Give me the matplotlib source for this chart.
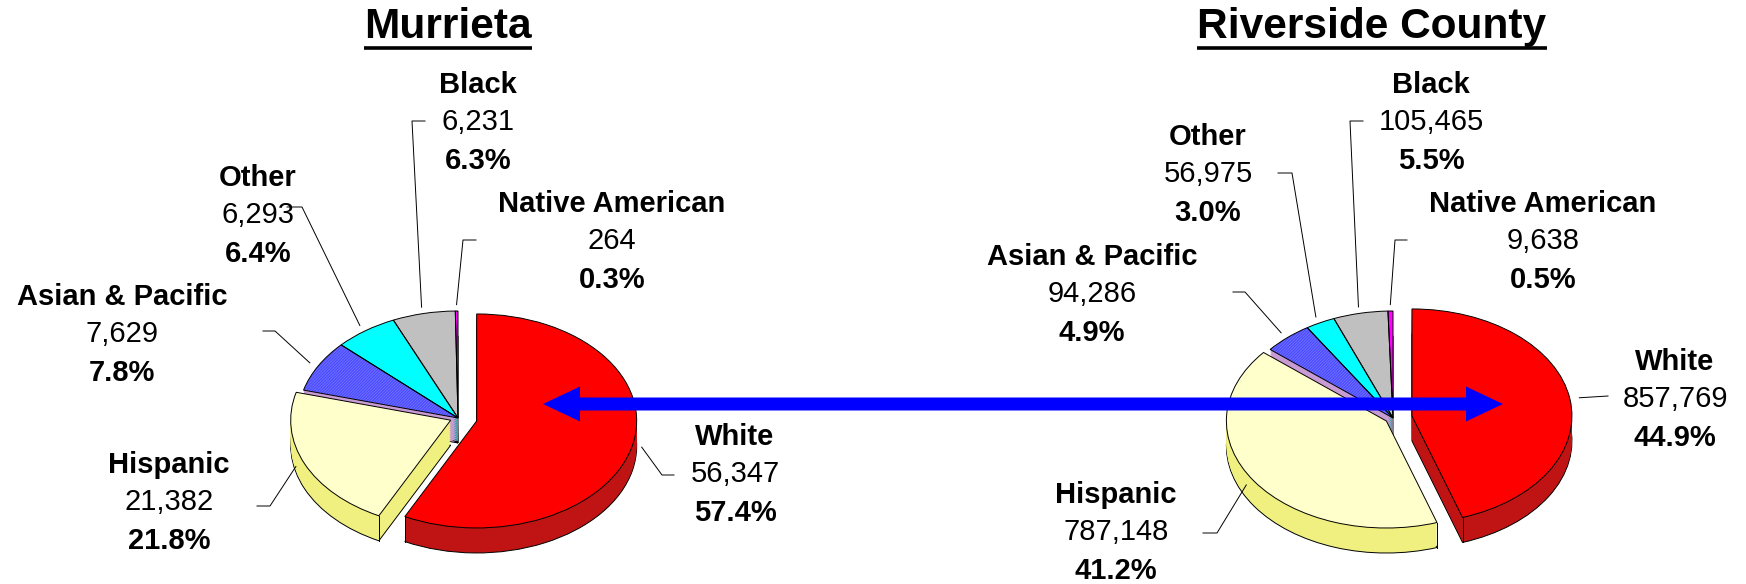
import numpy as np
import matplotlib
matplotlib.use("Agg")
import matplotlib.pyplot as plt

plt.rcParams['font.family'] = ['Liberation Sans', 'DejaVu Sans']
plt.rcParams['hatch.linewidth'] = 0.5

# ---- data ----
titles = ["Murrieta", "Riverside County"]
categories = ["White", "Hispanic", "Asian & Pacific", "Other", "Black", "Native American"]
murrieta = [56347, 21382, 7629, 6293, 6231, 264]
riverside = [857769, 787148, 94286, 56975, 105465, 9638]

top_colors = ["#FF0000", "#FFFFCC", "#C8C8FF", "#00FFFF", "#C0C0C0", "#FF00FF"]
side_colors = ["#C01414", "#F0F080", "#C89BD2", "#00AAAA", "#8C8C8C", "#A000A0"]
explode = [0.12, 0.05, 0, 0, 0, 0]

# ---- layout (pixels, origin top-left) ----
W, H = 1746, 584
RX, RY = 160, 107
DEPTH = 25
centers = [(458, 418), (1393, 418)]
title_pos = [(448, 38), (1372, 38)]
# label block: centre x, baseline of first line
label_pos = [
    [(735, 445), (169, 473), (122, 305), (258, 186), (478, 93), (612, 212)],
    [(1675, 370), (1116, 503), (1092, 265), (1208, 145), (1431, 93), (1543, 212)],
]
# leader line: tail x, elbow x, elbow y
leaders = [
    [(674, 662, 475), (257, 270, 506), (263, 275, 331), (287, 302, 207), (425, 412, 121), (476, 463, 240)],
    [(1608, 1608, 396), (1203, 1217, 533), (1233, 1245, 292), (1278, 1292, 173), (1363, 1350, 121), (1407, 1395, 240)],
]
arrow_y, arrow_x0, arrow_x1 = 404, 543, 1503

fig = plt.figure(figsize=(W / 100, H / 100), dpi=100)

pie_axes = []
for vals, (cx, cy) in zip([murrieta, riverside], centers):
    half = 1.5
    w, h = 2 * half * RX, 2 * half * RY
    ax = fig.add_axes([(cx - w / 2) / W, (H - cy - h / 2) / H, w / W, h / H])
    d = DEPTH / RY
    n = 14
    # side walls: stacked darker copies
    for k in range(n, 0, -1):
        ax.pie(vals, colors=side_colors, startangle=90, counterclock=False,
               explode=explode, center=(0, -d * k / n),
               wedgeprops=dict(edgecolor='black' if k == n else 'none', linewidth=0.7))
    wedges, _ = ax.pie(vals, colors=top_colors, startangle=90, counterclock=False,
                       explode=explode, wedgeprops=dict(linewidth=0))
    wedges[2].set_edgecolor('#2020FF')
    wedges[2].set_hatch('/' * 22)
    ax.pie(vals, startangle=90, counterclock=False, explode=explode,
           wedgeprops=dict(fill=False, edgecolor='black', linewidth=0.7))
    # vertical edges of the side walls
    for wg in wedges:
        for t in (wg.theta1, wg.theta2):
            x = wg.center[0] + np.cos(np.radians(t))
            y = wg.center[1] + np.sin(np.radians(t))
            if y < wg.center[1] - 0.05:
                ax.plot([x, x], [y, y - d], color='black', lw=0.7)
    ax.set_aspect('auto')
    ax.set_xlim(-half, half)
    ax.set_ylim(-half, half)
    pie_axes.append((ax, wedges))

# ---- overlay for text, leaders and arrow ----
ov = fig.add_axes([0, 0, 1, 1])
ov.set_xlim(0, W)
ov.set_ylim(H, 0)
ov.axis('off')
ov.patch.set_visible(False)

fs = 21
for p, vals in enumerate([murrieta, riverside]):
    ax, wedges = pie_axes[p]
    total = sum(vals)
    for i, cat in enumerate(categories):
        lx, ly = label_pos[p][i]
        ov.text(lx, ly, cat, ha='center', va='baseline', fontsize=fs, fontweight='bold')
        ov.text(lx, ly + 37, f"{vals[i]:,}", ha='center', va='baseline', fontsize=fs)
        ov.text(lx, ly + 76, f"{vals[i] / total * 100:.1f}%", ha='center', va='baseline',
                fontsize=fs, fontweight='bold')
        wg = wedges[i]
        tm = np.radians((wg.theta1 + wg.theta2) / 2)
        ax_pt = (wg.center[0] + 1.06 * np.cos(tm), wg.center[1] + 1.06 * np.sin(tm))
        dx, dy = ax.transData.transform(ax_pt)
        tx, ex, ey = leaders[p][i]
        ov.plot([tx, ex, dx], [ey, ey, H - dy], color='black', lw=0.7)

mid = (arrow_x0 + arrow_x1) / 2
for end in (arrow_x0, arrow_x1):
    ov.arrow(mid, arrow_y, end - mid, 0, width=13, head_width=35, head_length=37,
             length_includes_head=True, fc='#0000FF', ec='none', zorder=5)

title_texts = []
for t, (tx, ty) in zip(titles, title_pos):
    title_texts.append(ov.text(tx, ty, t, ha='center', va='baseline', fontsize=30.5,
                               fontweight='bold'))
fig.canvas.draw()
for tt, (tx, ty) in zip(title_texts, title_pos):
    bb = tt.get_window_extent()
    ov.plot([bb.x0, bb.x1], [ty + 9.5, ty + 9.5], color='black', lw=2.6,
            solid_capstyle='butt')

fig.savefig("out.png", dpi=100)
